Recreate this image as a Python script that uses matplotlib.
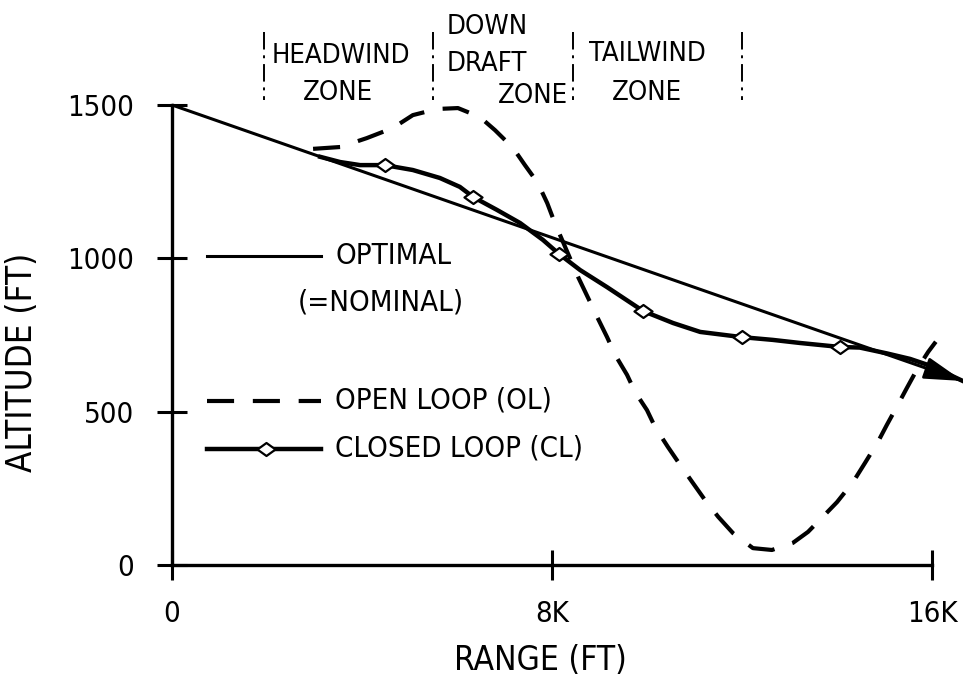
import numpy as np
import matplotlib
matplotlib.use("Agg")
import matplotlib.pyplot as plt
from matplotlib.path import Path
from matplotlib.transforms import Affine2D
from matplotlib import font_manager as fm
from matplotlib.textpath import TextToPath

# ---- data -------------------------------------------------------------
OPT_RANGE = [0, 16650]
OPT_ALT = [1500, 600]

OL_RANGE = [2970, 3540, 4100, 4650, 5070, 5580, 6020, 6480, 6800, 7180,
            7430, 7700, 7900, 8060, 8550, 8760, 8950, 9160, 9330, 9580,
            9750, 10000, 10170, 10440, 10700, 10950, 11220, 11500, 11810,
            12230, 12630, 13070, 13390, 13700, 14000, 14340, 14590, 14860,
            15050, 15280, 15470, 15700, 15920, 16080]
OL_ALT = [1357, 1363, 1392, 1425, 1467, 1487, 1490, 1461, 1418, 1360,
          1304, 1246, 1180, 1115, 939, 871, 809, 743, 685, 620,
          564, 505, 450, 385, 326, 271, 212, 157, 104,
          55, 49, 72, 108, 157, 205, 271, 333, 401,
          457, 522, 577, 642, 695, 728]

CL_RANGE = [3120, 3540, 3960, 4480, 5070, 5640, 6060, 6340, 6840, 7330,
            7810, 8150, 8590, 9160, 9920, 10550, 11120, 12000, 12650,
            13220, 14060, 14480, 15050, 15540, 15960, 16650]
CL_ALT = [1331, 1314, 1304, 1304, 1288, 1262, 1233, 1200, 1158, 1115,
          1060, 1014, 962, 906, 828, 789, 760, 743, 734,
          724, 711, 709, 690, 672, 650, 600]
CL_MARK_RANGE = [4480, 6340, 8150, 9920, 12000, 14060]
CL_MARK_ALT = [1304, 1200, 1014, 828, 743, 711]

X_TICKS = [0, 8000, 16000]
X_TICK_LABELS = ["0", "8K", "16K"]
Y_TICKS = [0, 500, 1000, 1500]
Y_TICK_LABELS = ["0", "500", "1000", "1500"]


# ---- font: prefer a narrow sans face when one is installed ---------------
def narrow_font():
    order = {"ultra-condensed": 0, "extra-condensed": 1, "condensed": 2,
             "semi-condensed": 3}
    best = None
    for f in fm.fontManager.ttflist:
        name = f.name.lower()
        st = str(f.stretch).lower()
        rank = order.get(st)
        if rank is None and ("narrow" in name or "condensed" in name):
            rank = 2
        if rank is None or f.style != "normal":
            continue
        w = f.weight if isinstance(f.weight, int) else 400
        if not 350 <= w <= 450 or "mono" in name or "serif" in name:
            continue
        if best is None or rank < best[0]:
            best = (rank, f.fname)
    if best:
        return fm.FontProperties(fname=best[1])
    return fm.FontProperties(family="DejaVu Sans")


BASE = narrow_font()
_ttp = TextToPath()
WIDEN = 1.15


def fitted(text, width_px, max_pt):
    p = BASE.copy()
    p.set_size(20)
    w, _, _ = _ttp.get_text_width_height_descent(text, p, ismath=False)
    size = min(max_pt, 20 * WIDEN * width_px / (w * 100 / 72))
    q = BASE.copy()
    q.set_size(size)
    return q


ZONE_FP = fitted("HEADWIND", 121, 26)
TICK_FP = fitted("1500", 58, 22)
LEG_FP = fitted("CLOSED LOOP (CL)", 215, 25)
YLAB_FP = fitted("ALTITUDE (FT)", 222, 25)
XLAB_FP = fitted("RANGE (FT)", 150, 25)

# ---- figure -----------------------------------------------------------
W, H = 963, 684
fig = plt.figure(figsize=(W / 100, H / 100), dpi=100)
PX = Affine2D().scale(1 / W, -1 / H).translate(0, 1) + fig.transFigure

ax = fig.add_axes([172 / W, 1 - 565 / H, (932 - 172) / W, (565 - 105) / H])
ax.set_xlim(0, 16000)
ax.set_ylim(0, 1500)

for s in ("top", "right"):
    ax.spines[s].set_visible(False)
for s in ("left", "bottom"):
    ax.spines[s].set_linewidth(2.4)

ax.set_xticks(X_TICKS)
ax.set_xticklabels(X_TICK_LABELS, fontproperties=TICK_FP)
ax.set_yticks(Y_TICKS)
ax.set_yticklabels(Y_TICK_LABELS, fontproperties=TICK_FP)
ax.tick_params(axis="both", direction="inout", length=21, width=2.2,
               colors="black")
ax.tick_params(axis="x", pad=15)
ax.tick_params(axis="y", pad=17)

OL_STYLE = (0, (6.5, 4.5))
diamond = Path([(-1, 0), (0, 0.72), (1, 0), (0, -0.72), (-1, 0)],
               [Path.MOVETO, Path.LINETO, Path.LINETO, Path.LINETO,
                Path.CLOSEPOLY])
MK = dict(marker=diamond, markersize=13, markerfacecolor="white",
          markeredgecolor="black", markeredgewidth=1.6)

# optimal (nominal) path
ax.plot(OPT_RANGE, OPT_ALT, color="black", lw=2.2, clip_on=False,
        solid_capstyle="butt")

# open loop
ax.plot(OL_RANGE, OL_ALT, color="black", lw=3.0, linestyle=OL_STYLE,
        clip_on=False, solid_joinstyle="round", dash_joinstyle="round")

# closed loop
ax.plot(CL_RANGE, CL_ALT, color="black", lw=3.2, clip_on=False,
        solid_joinstyle="round")
ax.plot(CL_MARK_RANGE, CL_MARK_ALT, linestyle="none", clip_on=False,
        zorder=4, **MK)

# arrow head at the end of the path
tail_x = OPT_RANGE[-1] - 700
tail_y = np.interp(tail_x, OPT_RANGE, OPT_ALT)
ax.annotate("", xy=(OPT_RANGE[-1], OPT_ALT[-1]), xytext=(tail_x, tail_y),
            arrowprops=dict(arrowstyle="-|>,head_length=1.2,head_width=0.34",
                            mutation_scale=20, color="black", lw=2,
                            shrinkA=0, shrinkB=0),
            annotation_clip=False)

# zone dividers and labels above the plot
for xe in (264, 433, 573, 742):
    fig.add_artist(plt.Line2D([xe, xe], [32, 100], transform=PX,
                              color="black", lw=1.4,
                              linestyle=(0, (9, 3, 1.5, 3))))

zone_texts = [
    ("HEADWIND", 341, 56, "center"), ("ZONE", 338, 93, "center"),
    ("DOWN", 447, 27, "left"), ("DRAFT", 447, 64, "left"),
    ("ZONE", 498, 96, "left"),
    ("TAILWIND", 647, 54, "center"), ("ZONE", 647, 93, "center"),
]
for t, x, y, ha in zone_texts:
    fig.text(x / W, 1 - y / H, t, ha=ha, va="center", fontproperties=ZONE_FP)

# legend
fig.add_artist(plt.Line2D([207, 321], [256, 256], transform=PX,
                          color="black", lw=2.2))
fig.text(335 / W, 1 - 256 / H, "OPTIMAL", ha="left", va="center",
         fontproperties=LEG_FP)
fig.text(381 / W, 1 - 302 / H, "(=NOMINAL)", ha="center", va="center",
         fontproperties=LEG_FP)

fig.add_artist(plt.Line2D([207, 321], [401, 401], transform=PX,
                          color="black", lw=3.0, linestyle=OL_STYLE))
fig.text(335 / W, 1 - 401 / H, "OPEN LOOP (OL)", ha="left", va="center",
         fontproperties=LEG_FP)

fig.add_artist(plt.Line2D([207, 321], [449, 449], transform=PX,
                          color="black", lw=3.2))
fig.add_artist(plt.Line2D([266], [449], transform=PX, linestyle="none",
                          **MK))
fig.text(335 / W, 1 - 449 / H, "CLOSED LOOP (CL)", ha="left", va="center",
         fontproperties=LEG_FP)

# axis titles
fig.text(22 / W, 1 - 362 / H, "ALTITUDE (FT)", rotation=90, ha="center",
         va="center", fontproperties=YLAB_FP)
fig.text(540 / W, 1 - 660 / H, "RANGE (FT)", ha="center", va="center",
         fontproperties=XLAB_FP)

fig.savefig("out.png", dpi=100, facecolor="white")
